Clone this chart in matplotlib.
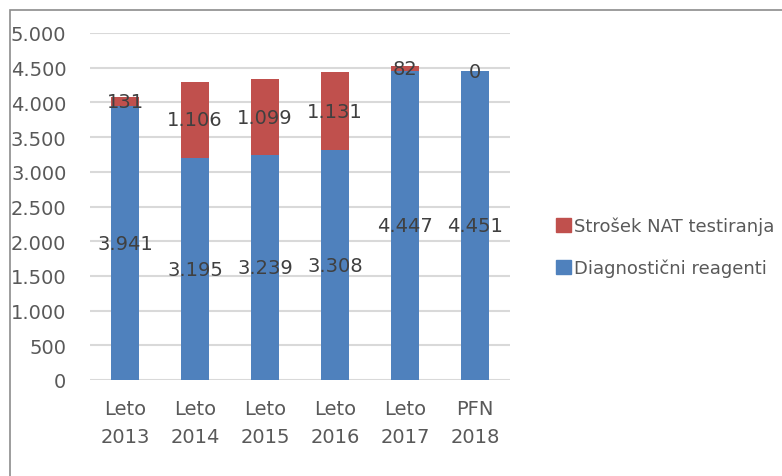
import matplotlib
matplotlib.use("Agg")
import matplotlib.pyplot as plt
from matplotlib.patches import Rectangle, Patch

categories = ["Leto\n2013", "Leto\n2014", "Leto\n2015", "Leto\n2016", "Leto\n2017", "PFN\n2018"]
reagenti = [3941, 3195, 3239, 3308, 4447, 4451]
nat = [131, 1106, 1099, 1131, 82, 0]
yticks = [0, 500, 1000, 1500, 2000, 2500, 3000, 3500, 4000, 4500, 5000]

BLUE = "#4F81BD"
RED = "#C0504D"
TXT = "#595959"
LBL = "#404040"


def fmt(v):
    return f"{v:,}".replace(",", ".")


plt.rcParams["font.family"] = ["DejaVu Sans"]

fig = plt.figure(figsize=(7.82, 4.77), dpi=100)
ax = fig.add_axes([90 / 782, 96 / 477, 420 / 782, 347 / 477])

x = list(range(len(categories)))
ax.bar(x, reagenti, width=0.4, color=BLUE, zorder=3)
ax.bar(x, nat, width=0.4, bottom=reagenti, color=RED, zorder=3)

for i in x:
    ax.text(i, reagenti[i] / 2, fmt(reagenti[i]), ha="center", va="center",
            fontsize=14, color=LBL, zorder=4)
    ax.text(i, reagenti[i] + nat[i] / 2, fmt(nat[i]), ha="center", va="center",
            fontsize=14, color=LBL, zorder=4)

ax.set_xlim(-0.5, len(categories) - 0.5)
ax.set_ylim(0, 5000)
ax.set_yticks(yticks)
ax.set_yticklabels([fmt(v) for v in yticks])
ax.set_xticks(x)
ax.set_xticklabels(categories, linespacing=1.6)
ax.tick_params(axis="both", length=0, labelsize=14, colors=TXT)
ax.tick_params(axis="y", pad=17)
ax.tick_params(axis="x", pad=14)
ax.yaxis.grid(True, color="#D9D9D9", linewidth=1.5, zorder=0)
for s in ax.spines.values():
    s.set_visible(False)

handles = [Patch(color=RED, label="Strošek NAT testiranja"),
           Patch(color=BLUE, label="Diagnostični reagenti")]
fig.legend(handles=handles, loc="center left", bbox_to_anchor=(540 / 782, 1 - 248 / 477),
           frameon=False, fontsize=13, labelcolor=TXT, handlelength=0.8,
           handleheight=0.8, handletextpad=0.2, labelspacing=1.3)

fig.patches.append(Rectangle((10 / 782, -0.1), 1.5, 1.1 - 11 / 477,
                             transform=fig.transFigure, fill=False,
                             edgecolor="#8C8C8C", linewidth=1.2))

fig.savefig("out.png", dpi=100)
